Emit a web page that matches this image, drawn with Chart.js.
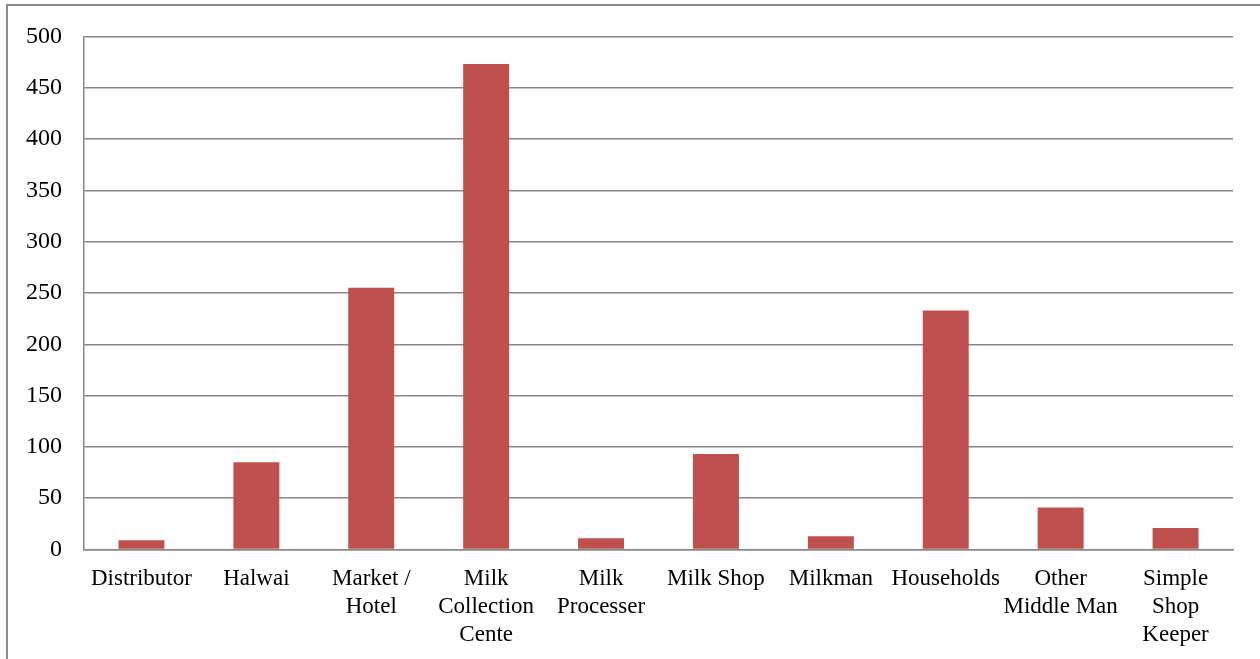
<!DOCTYPE html>
<html>
<head>
<meta charset="utf-8">
<script src="https://cdn.jsdelivr.net/npm/chart.js@4/dist/chart.umd.min.js"></script>
<style>
  html, body { margin: 0; padding: 0; background: #fff; overflow: hidden; }
  #wrap { position: relative; width: 1260px; height: 659px; }
  #frame { position: absolute; left: 6px; top: 4px; width: 1300px; height: 700px;
           border: 2px solid #8a8a8a; box-sizing: border-box; pointer-events: none; }
  canvas { position: absolute; left: 0; top: 0; }
</style>
</head>
<body>
<div id="wrap">
  <canvas id="chart" width="1260" height="659"></canvas>
  <div id="frame"></div>
</div>
<script>
// Buyers of milk and how many sell to each
const categories = [
  "Distributor",
  "Halwai",
  ["Market /", "Hotel"],
  ["Milk", "Collection", "Cente"],
  ["Milk", "Processer"],
  "Milk Shop",
  "Milkman",
  "Households",
  ["Other", "Middle Man"],
  ["Simple", "Shop", "Keeper"]
];
const counts = [9, 85, 255, 473, 11, 93, 13, 233, 41, 21];
const yTicks = [0, 50, 100, 150, 200, 250, 300, 350, 400, 450, 500];

const fontFamily = "'Liberation Serif', 'Times New Roman', serif";

new Chart(document.getElementById('chart'), {
  type: 'bar',
  data: {
    labels: categories,
    datasets: [{
      data: counts,
      backgroundColor: '#C0504D',
      borderWidth: 0,
      categoryPercentage: 1.0,
      barPercentage: 0.4
    }]
  },
  options: {
    responsive: false,
    animation: false,
    layout: { padding: { left: 0, right: 27, top: 33.7, bottom: 0 } },
    plugins: { legend: { display: false }, tooltip: { enabled: false } },
    scales: {
      x: {
        grid: { display: false, drawTicks: false },
        border: { display: true, color: '#878787', width: 1.5 },
        ticks: {
          color: '#000',
          font: { family: fontFamily, size: 23 },
          lineHeight: 1.18,
          maxRotation: 0, minRotation: 0, autoSkip: false,
          padding: 16
        },
        afterFit(scale) { scale.height = 109.5; }
      },
      y: {
        min: 0, max: 500,
        afterBuildTicks(scale) { scale.ticks = yTicks.map(v => ({ value: v })); },
        grid: { color: '#878787', lineWidth: 1.5, drawTicks: false },
        border: { display: true, color: '#878787', width: 1.5 },
        ticks: {
          color: '#000',
          font: { family: fontFamily, size: 24 },
          padding: 22
        },
        afterFit(scale) { scale.width = 84; }
      }
    }
  }
});
</script>
</body>
</html>
